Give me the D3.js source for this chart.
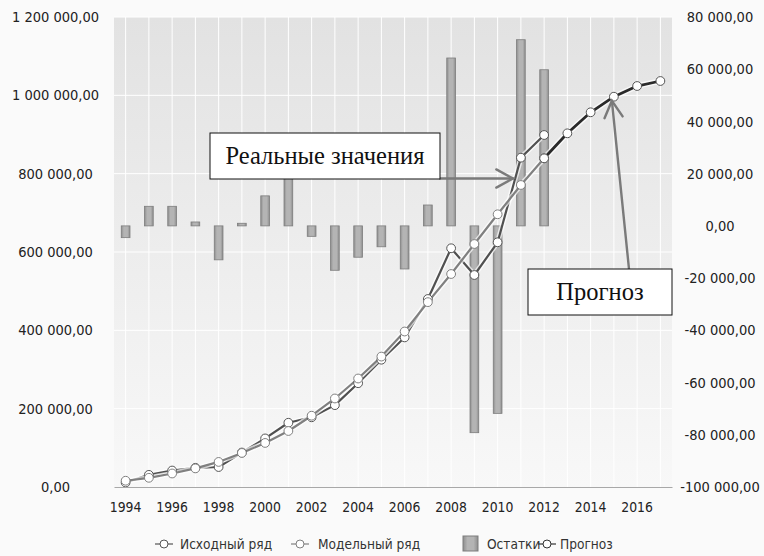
<!DOCTYPE html>
<html>
<head>
<meta charset="utf-8">
<script src="https://cdn.jsdelivr.net/npm/d3@7"></script>
<style>
  html, body { margin: 0; padding: 0; background: #fafafa; }
  svg { display: block; }
</style>
</head>
<body>
<svg id="chart" width="764" height="556"></svg>
<script>
// ---- data ----
const years = [1994,1995,1996,1997,1998,1999,2000,2001,2002,2003,2004,2005,2006,2007,2008,2009,2010,2011,2012,2013,2014,2015,2016,2017];
const originalYears = [1994,1995,1996,1997,1998,1999,2000,2001,2002,2003,2004,2005,2006,2007,2008,2009,2010,2011,2012];
const originalValues = [11500,31000,42000,49000,51000,88000,124000,164000,178000,209000,265000,325000,382000,480000,609500,541300,624800,840800,898700];
const modelValues    = [16000,23500,34500,47500,64000,87000,112500,143000,182000,226000,277000,333000,397000,472000,543800,620400,696300,771100,839200];
const residualValues = [-4500,7500,7500,1500,-13000,1000,11500,21000,-4000,-17000,-12000,-8000,-16500,8000,64300,-79200,-71800,71300,59800];
const forecastYears  = [2012,2013,2014,2015,2016,2017];
const forecastValues = [839200,903000,956700,996500,1023800,1036600];
const xTickLabels = [1994,1996,1998,2000,2002,2004,2006,2008,2010,2012,2014,2016];
const leftTicks  = [0,200000,400000,600000,800000,1000000,1200000];
const rightTicks = [-100000,-80000,-60000,-40000,-20000,0,20000,40000,60000,80000];
const legendLabels = ["Исходный ряд","Модельный ряд","Остатки","Прогноз"];

// ---- layout ----
const plot = {left: 114, right: 672, top: 17, bottom: 487};
const svg = d3.select("#chart");

const loc = d3.formatLocale({decimal: ",", thousands: "\u00a0", grouping: [3], currency: ["", ""], minus: "-"});
const fmt = loc.format(",.2f");

const x = d3.scaleBand().domain(years).range([plot.left, plot.right]).padding(0);
const cx = d => x(d) + x.bandwidth() / 2;
const yL = d3.scaleLinear().domain([0, 1200000]).range([plot.bottom, plot.top]);
const yR = d3.scaleLinear().domain([-100000, 80000]).range([plot.bottom, plot.top]);

// ---- defs ----
const defs = svg.append("defs");
const bg = defs.append("linearGradient").attr("id", "bgGrad").attr("x1", 0).attr("y1", 0).attr("x2", 0).attr("y2", 1);
bg.append("stop").attr("offset", "0%").attr("stop-color", "#e2e2e2");
bg.append("stop").attr("offset", "100%").attr("stop-color", "#f8f8f8");
const barG = defs.append("linearGradient").attr("id", "barGrad").attr("x1", 0).attr("y1", 0).attr("x2", 1).attr("y2", 0);
barG.append("stop").attr("offset", "0%").attr("stop-color", "#8e8e8e");
barG.append("stop").attr("offset", "30%").attr("stop-color", "#b4b4b4");
barG.append("stop").attr("offset", "70%").attr("stop-color", "#b4b4b4");
barG.append("stop").attr("offset", "100%").attr("stop-color", "#8e8e8e");

// ---- plot background ----
svg.append("rect").attr("x", plot.left).attr("y", plot.top)
  .attr("width", plot.right - plot.left).attr("height", plot.bottom - plot.top)
  .attr("fill", "url(#bgGrad)");

// grid
const grid = svg.append("g").attr("stroke", "#ffffff").attr("stroke-width", 1);
years.forEach(yr => grid.append("line")
  .attr("x1", cx(yr)).attr("x2", cx(yr)).attr("y1", plot.top).attr("y2", plot.bottom));
leftTicks.filter(t => t > 0).forEach(t => grid.append("line")
  .attr("x1", plot.left).attr("x2", plot.right).attr("y1", yL(t)).attr("y2", yL(t)));

// ---- bars (residuals, right axis) ----
const barW = x.bandwidth() * 0.375;
svg.append("g").selectAll("rect").data(originalYears.map((yr, i) => ({yr, v: residualValues[i]})))
  .join("rect")
  .attr("x", d => cx(d.yr) - barW / 2)
  .attr("y", d => Math.min(yR(d.v), yR(0)))
  .attr("width", barW)
  .attr("height", d => Math.max(1.5, Math.abs(yR(d.v) - yR(0))))
  .attr("fill", "url(#barGrad)")
  .attr("stroke", "#7d7d7d").attr("stroke-width", 0.8);

// ---- lines ----
function drawSeries(xs, vs, color, width) {
  const pts = xs.map((yr, i) => [cx(yr), yL(vs[i])]);
  const line = d3.line();
  svg.append("path").attr("d", line(pts)).attr("fill", "none")
    .attr("stroke", "#ffffff").attr("stroke-opacity", 0.7).attr("stroke-width", width + 3).attr("stroke-linejoin", "round");
  svg.append("path").attr("d", line(pts)).attr("fill", "none")
    .attr("stroke", color).attr("stroke-width", width).attr("stroke-linejoin", "round");
  return pts;
}
const ptsO = drawSeries(originalYears, originalValues, "#505050", 2.2);
const ptsM = drawSeries(originalYears, modelValues, "#808080", 2.2);
const ptsF = drawSeries(forecastYears, forecastValues, "#2a2a2a", 2.8);
[ptsO, ptsM, ptsF].forEach((pts, k) => {
  svg.append("g").selectAll("circle").data(pts).join("circle")
    .attr("cx", d => d[0]).attr("cy", d => d[1]).attr("r", 4.4)
    .attr("fill", "#ffffff").attr("stroke", k === 1 ? "#808080" : "#555555").attr("stroke-width", 1);
});

// ---- axes ----
const tickFont = "'DejaVu Sans Condensed', 'DejaVu Sans', Verdana, sans-serif";
const xAxis = svg.append("g").attr("transform", `translate(0,${plot.bottom})`)
  .call(d3.axisBottom(x).tickValues(xTickLabels).tickSize(0).tickPadding(15).tickFormat(d3.format("d")));
xAxis.select(".domain").attr("stroke", "#a8a8a8");
xAxis.selectAll("text").attr("font-family", tickFont).attr("font-size", 13.8).attr("fill", "#222");

const lAxis = svg.append("g").attr("transform", `translate(${plot.left},0)`)
  .call(d3.axisLeft(yL).tickValues(leftTicks).tickSize(0).tickFormat(fmt));
lAxis.select(".domain").remove();
lAxis.selectAll("text").attr("font-family", tickFont).attr("font-size", 14.5).attr("fill", "#222")
  .attr("text-anchor", "middle").attr("x", 55.5 - plot.left);

const rAxis = svg.append("g").attr("transform", `translate(${plot.right},0)`)
  .call(d3.axisRight(yR).tickValues(rightTicks).tickSize(0).tickFormat(fmt));
rAxis.select(".domain").remove();
rAxis.selectAll("text").attr("font-family", tickFont).attr("font-size", 14.5).attr("fill", "#222")
  .attr("text-anchor", "middle").attr("x", 720 - plot.right);

// ---- callouts with arrows ----
const arrowColor = "#7a7a7a";
function arrow(x1, y1, x2, y2) {
  const g = svg.append("g").attr("stroke", arrowColor).attr("stroke-width", 2.4).attr("fill", "none").attr("stroke-linecap", "round");
  g.append("line").attr("x1", x1).attr("y1", y1).attr("x2", x2).attr("y2", y2);
  const a = Math.atan2(y2 - y1, x2 - x1), L = 19, s = 0.5;
  const p1 = [x2 - L * Math.cos(a - s), y2 - L * Math.sin(a - s)];
  const p2 = [x2 - L * Math.cos(a + s), y2 - L * Math.sin(a + s)];
  g.append("path").attr("d", `M${p1[0]},${p1[1]}L${x2},${y2}L${p2[0]},${p2[1]}`);
}
arrow(440, 178.5, 513, 178.5);
arrow(629, 269, cx(2015) - 2, yL(forecastValues[3]) + 4);

function callout(x0, y0, w, h, text) {
  svg.append("rect").attr("x", x0).attr("y", y0).attr("width", w).attr("height", h)
    .attr("fill", "#ffffff").attr("stroke", "#111").attr("stroke-width", 1);
  svg.append("text").attr("x", x0 + w / 2).attr("y", y0 + h / 2 + 8)
    .attr("text-anchor", "middle").attr("font-family", "'Liberation Serif', 'Times New Roman', serif")
    .attr("font-size", 24.5).attr("fill", "#111").text(text);
}
callout(210, 133, 230, 46, "Реальные значения");
callout(528, 269, 144, 46, "Прогноз");

// ---- legend ----
const lg = svg.append("g").attr("font-family", tickFont).attr("font-size", 13.6).attr("fill", "#333");
const ly = 544;
function lineKey(x0, color) {
  lg.append("line").attr("x1", x0).attr("x2", x0 + 18).attr("y1", ly).attr("y2", ly).attr("stroke", color).attr("stroke-width", 1.2);
  lg.append("circle").attr("cx", x0 + 9).attr("cy", ly).attr("r", 4).attr("fill", "#fff").attr("stroke", color);
}
lineKey(155, "#555");
lg.append("text").attr("x", 180).attr("y", ly + 4.5).text(legendLabels[0]);
lineKey(291, "#808080");
lg.append("text").attr("x", 318).attr("y", ly + 4.5).text(legendLabels[1]);
lg.append("rect").attr("x", 463).attr("y", ly - 8).attr("width", 15).attr("height", 15)
  .attr("fill", "url(#barGrad)").attr("stroke", "#7d7d7d");
lg.append("text").attr("x", 487).attr("y", ly + 4.5).text(legendLabels[2]);
lineKey(538, "#333");
lg.append("text").attr("x", 560).attr("y", ly + 4.5).text(legendLabels[3]);
</script>
</body>
</html>
